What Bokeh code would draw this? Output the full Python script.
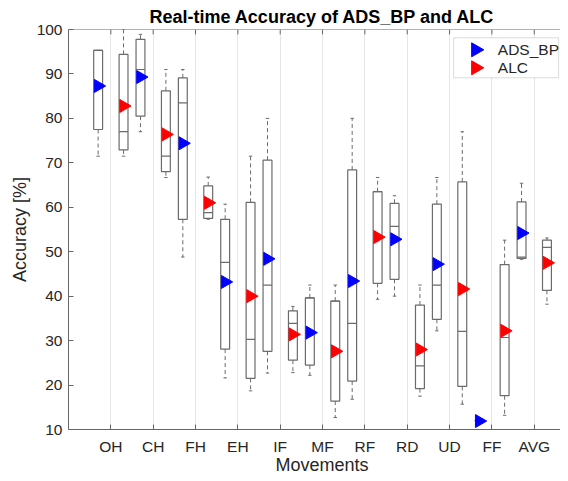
import numpy as np
from bokeh.plotting import figure
from bokeh.models import (ColumnDataSource, FixedTicker, Title, Span, BoxAnnotation, Label)
from bokeh.embed import file_html
from bokeh.resources import INLINE

categories = ["OH", "CH", "FH", "EH", "IF", "MF", "RF", "RD", "UD", "FF", "AVG"]
y_ticks = [10, 20, 30, 40, 50, 60, 70, 80, 90, 100]
series_names = ["ADS_BP", "ALC"]

ads_lo   = [71.5, 77.0, 48.8, 21.6, 22.7, 22.2, 16.8, 40.0, 32.2, 12.0, 48.3]
ads_q1   = [77.5, 80.5, 57.3, 28.1, 27.6, 24.5, 20.9, 43.8, 34.8, 12.0, 48.5]
ads_med  = [95.3, 91.0, 83.5, 47.6, 42.5, 39.6, 33.9, 55.7, 42.5, 12.0, 48.8]
ads_q3   = [95.3, 97.8, 89.1, 57.3, 70.6, 39.6, 68.4, 60.9, 60.7, 12.0, 61.2]
ads_hi   = [95.3, 98.9, 91.0, 60.7, 80.0, 42.5, 80.0, 62.6, 66.7, 12.0, 65.4]
ads_mean = [87.3, 89.3, 74.4, 43.2, 48.4, 31.8, 43.4, 52.8, 47.2, 11.9, 54.2]

alc_lo   = [71.5, 66.7, 57.3, 18.7, 22.8, 12.7, 39.3, 17.5, 15.7, 13.2, 38.2]
alc_q1   = [72.9, 68.0, 57.5, 21.5, 25.6, 16.4, 42.9, 19.2, 19.7, 17.6, 41.3]
alc_med  = [77.0, 71.5, 58.8, 30.3, 33.9, 38.9, 63.5, 24.3, 32.1, 30.7, 51.0]
alc_q3   = [94.4, 86.2, 64.8, 61.1, 36.7, 38.9, 63.5, 38.0, 65.7, 47.1, 52.6]
alc_hi   = [100.0, 91.0, 66.8, 71.5, 37.7, 42.5, 66.7, 42.5, 77.0, 52.6, 53.1]
alc_mean = [82.8, 76.4, 61.0, 40.0, 31.4, 27.6, 53.3, 28.0, 41.6, 32.2, 47.5]

FONT = "Liberation Sans"
BOX_C = "#6b6b6b"
AX_C = "#666666"
TXT_C = "#262626"
BLUE = "#0000ff"
RED = "#ff0000"

idx = np.arange(1, len(categories) + 1)
Y0, Y1 = 10, 100

p = figure(width=560, height=473, x_range=(0, 11.62), y_range=(Y0, Y1),
           output_backend="svg", toolbar_location=None,
           min_border_left=68, min_border_right=0, min_border_top=29,
           min_border_bottom=44)
p.background_fill_color = "white"
p.border_fill_color = "white"
p.outline_line_color = None

p.title.text = "Real-time Accuracy of ADS_BP and ALC"
p.title.align = "left"
p.title.offset = 81
p.title.text_font = FONT
p.title.text_font_size = "18px"
p.title.text_font_style = "bold"
p.title.text_color = "black"
p.title.standoff = 5

# axes
p.xaxis.ticker = FixedTicker(ticks=list(idx))
p.xaxis.major_label_overrides = {int(i): c for i, c in zip(idx, categories)}
p.yaxis.ticker = FixedTicker(ticks=y_ticks)
for ax in (p.xaxis[0], p.yaxis[0]):
    ax.axis_line_color = AX_C
    ax.major_tick_line_color = AX_C
    ax.major_tick_in = 5
    ax.major_tick_out = 0
    ax.minor_tick_line_color = None
    ax.major_label_text_font = FONT
    ax.major_label_text_font_size = "15.5px"
    ax.major_label_text_color = TXT_C
    ax.axis_label_text_font = FONT
    ax.axis_label_text_font_size = "18px"
    ax.axis_label_text_font_style = "normal"
    ax.axis_label_text_color = TXT_C
p.yaxis.axis_label = "Accuracy [%]"
p.xaxis.major_label_standoff = 8
p.yaxis.major_label_standoff = 6
p.yaxis.axis_label_standoff = 4

xlabel = Title(text="Movements", align="left", offset=207, text_font=FONT,
               text_font_size="18px", text_font_style="normal", text_color=TXT_C,
               standoff=-10)
p.add_layout(xlabel, "below")

# top frame line with inward ticks
p.add_layout(Span(location=Y1, dimension="width", line_color=AX_C, line_width=1))
p.segment(x0=idx, y0=Y1, x1=idx, y1=Y1 - 1.1, line_color=AX_C, line_width=1)

p.xgrid.ticker = FixedTicker(ticks=list(idx))
p.xgrid.grid_line_color = "#e6e6e6"
p.ygrid.grid_line_color = None

OFF = 0.3
BW = 0.21
CW = 0.08


def draw_group(xs, lo, q1, med, q3, hi, mean, color):
    src = ColumnDataSource(dict(x=xs, lo=lo, q1=q1, med=med, q3=q3, hi=hi, mean=mean,
                                l=xs - BW / 2, r=xs + BW / 2,
                                cl=xs - CW / 2, cr=xs + CW / 2))
    p.segment(x0="x", y0="q3", x1="x", y1="hi", source=src, line_color=BOX_C,
              line_dash="4 3", line_width=1)
    p.segment(x0="x", y0="q1", x1="x", y1="lo", source=src, line_color=BOX_C,
              line_dash="4 3", line_width=1)
    p.segment(x0="cl", y0="hi", x1="cr", y1="hi", source=src, line_color=BOX_C, line_width=1)
    p.segment(x0="cl", y0="lo", x1="cr", y1="lo", source=src, line_color=BOX_C, line_width=1)
    p.quad(left="l", right="r", bottom="q1", top="q3", source=src, fill_color=None,
           line_color=BOX_C, line_width=1.2)
    p.segment(x0="l", y0="med", x1="r", y1="med", source=src, line_color=BOX_C, line_width=1.2)
    return p.scatter(x="x", y="mean", source=src, marker="triangle", angle=-np.pi / 2,
                     size=13, fill_color=color, line_color=color)


draw_group(idx - OFF, ads_lo, ads_q1, ads_med, ads_q3, ads_hi, ads_mean, BLUE)
draw_group(idx + OFF, alc_lo, alc_q1, alc_med, alc_q3, alc_hi, alc_mean, RED)

# legend (right-pointing triangles, like the reference)
LG_L, LG_R, LG_T, LG_B = 9.095, 11.576, 98.13, 89.13
LG_ROWS = [95.43, 91.38]
LG_MX, LG_TX = 9.617, 10.14
p.add_layout(BoxAnnotation(left=LG_L, right=LG_R, top=LG_T, bottom=LG_B,
                           fill_color="white", fill_alpha=1, line_color="#8a8a8a",
                           line_width=1, level="underlay"))
p.scatter(x=[LG_MX, LG_MX], y=LG_ROWS, marker="triangle", angle=-np.pi / 2, size=14,
          fill_color=[BLUE, RED], line_color=[BLUE, RED])
for name, yy in zip(series_names, LG_ROWS):
    p.add_layout(Label(x=LG_TX, y=yy, text=name, text_baseline="middle", text_font=FONT,
                       text_font_size="15.5px", text_color=TXT_C))

open("out.html", "w").write(file_html(p, INLINE))
